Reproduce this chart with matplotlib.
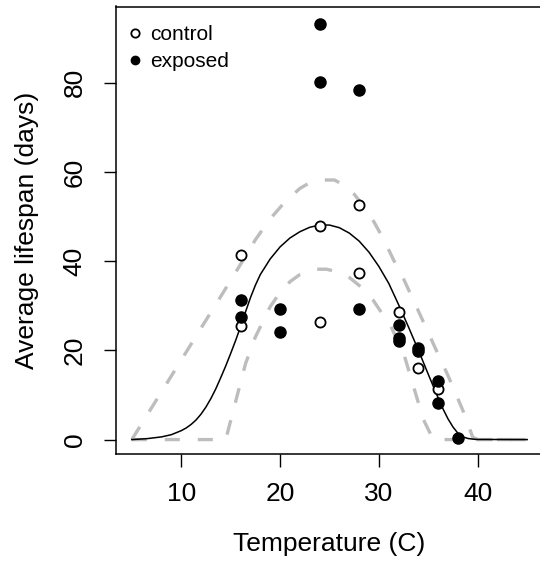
import matplotlib
matplotlib.use('Agg')
from matplotlib import pyplot as plt
from matplotlib.lines import Line2D

plt.rcParams['font.family'] = ['Liberation Sans', 'DejaVu Sans']

# observed means
control_temp = [16, 16, 24, 24, 28, 28, 32, 34, 36]
control_life = [41.4, 25.5, 47.9, 26.4, 52.6, 37.4, 28.6, 16.0, 11.3]

exposed_temp = [16, 16, 20, 20, 24, 24, 28, 28, 32, 32, 32, 34, 34, 36, 36, 38]
exposed_life = [31.3, 27.4, 29.3, 24.2, 93.1, 80.2, 78.4, 29.3,
                25.6, 22.8, 22.1, 20.6, 19.9, 13.2, 8.2, 0.3]

# fitted curve
fit_temp = [5, 6.5, 8, 9, 10, 10.5, 11, 11.5, 12, 12.5, 13, 13.5, 14, 14.5, 15,
            15.5, 16, 16.5, 17, 17.5, 18, 19, 20, 21, 22, 23, 24, 25, 26, 27,
            28, 29, 30, 31, 32, 33, 34, 35, 36, 36.5, 37, 37.5, 38, 38.5, 39,
            39.5, 40, 45]
fit_life = [0, 0.2, 0.6, 1.1, 2.0, 2.6, 3.4, 4.4, 5.7, 7.3, 9.2, 11.4, 13.9,
            16.5, 19.3, 22.2, 25.3, 28.6, 31.8, 34.6, 37.0, 40.5, 43.2, 45.2,
            46.6, 47.6, 48.1, 48.1, 47.5, 46.3, 44.5, 42.0, 38.8, 35.0, 30.2,
            25.2, 20.0, 14.6, 9.3, 6.8, 4.6, 2.8, 1.4, 0.6, 0.25, 0.1, 0.03, 0]

# confidence band
upper_temp = [5, 8, 11, 14, 16, 17.5, 19, 20.5, 22, 23, 24, 25.5, 26.5, 27.5,
              28.5, 29.5, 30.5, 31.5, 32.5, 34, 35.5, 37, 38.5, 39.5, 40, 45]
upper_life = [0, 10.7, 21.4, 32.1, 39.3, 44.8, 49.5, 53.3, 56.3, 57.6, 58.2,
              58.2, 57.0, 55.0, 52.2, 48.8, 44.8, 40.2, 36.0, 28.8, 21.5, 14.3,
              6.5, 0.5, 0, 0]

lower_temp = [5, 14.5, 15.5, 16.5, 17.5, 19, 20, 21, 22, 23.4, 24.7, 26, 27.1,
              28.3, 29.4, 30.4, 31.1, 32, 32.6, 33.5, 34.5, 35.5, 45]
lower_life = [0, 0, 8.5, 17.0, 23.0, 29.8, 33.0, 35.4, 37.0, 38.2, 38.2, 37.5,
              36.2, 34.0, 31.3, 28.0, 26.0, 21.5, 18.6, 11.9, 4.5, 0, 0]

fig = plt.figure(figsize=(5.4, 5.61), dpi=100)
ax = fig.add_axes([116 / 540, 1 - 454.3 / 561, (543 - 116) / 540, (454.3 - 6.5) / 561])

band_style = dict(color='#bdbdbd', lw=2.4, dashes=(4.5, 5.4), zorder=1)
ax.plot(upper_temp, upper_life, **band_style)
ax.plot(lower_temp, lower_life, **band_style)
ax.plot(fit_temp, fit_life, color='black', lw=1.1, zorder=2)

ax.plot(control_temp, control_life, 'o', ms=7.3, mfc='white', mec='black', mew=1.3,
        ls='none', zorder=3)
ax.plot(exposed_temp, exposed_life, 'o', ms=8.0, mfc='black', mec='black',
        ls='none', zorder=4)

ax.set_xlim(3.4, 46.6)
ax.set_ylim(-3.3, 97.1)
ax.set_xticks([10, 20, 30, 40])
ax.set_yticks([0, 20, 40, 60, 80])
ax.tick_params(axis='both', direction='out', length=9, width=1, labelsize=19,
               colors='black')
ax.tick_params(axis='x', pad=11)
ax.tick_params(axis='y', pad=12)
for lbl in ax.get_yticklabels():
    lbl.set_rotation(90)
    lbl.set_va('center')
for sp in ax.spines.values():
    sp.set_linewidth(1.1)

ax.set_xlabel('Temperature (C)', fontsize=19, va='center')
ax.set_ylabel('Average lifespan (days)', fontsize=19)
ax.xaxis.set_label_coords(0.5, -0.2)
ax.yaxis.set_label_coords(-0.18, 0.5)

handles = [
    Line2D([], [], marker='o', ls='none', ms=6, mfc='white', mec='black', mew=1.3),
    Line2D([], [], marker='o', ls='none', ms=6, mfc='black', mec='black'),
]
ax.legend(handles, ['control', 'exposed'], loc='upper left', frameon=False,
          fontsize=15, handlelength=0.8, handletextpad=0.3, labelspacing=0.38,
          borderaxespad=0.5, bbox_to_anchor=(-0.018, 1.0))

fig.savefig('out.png', dpi=100)
